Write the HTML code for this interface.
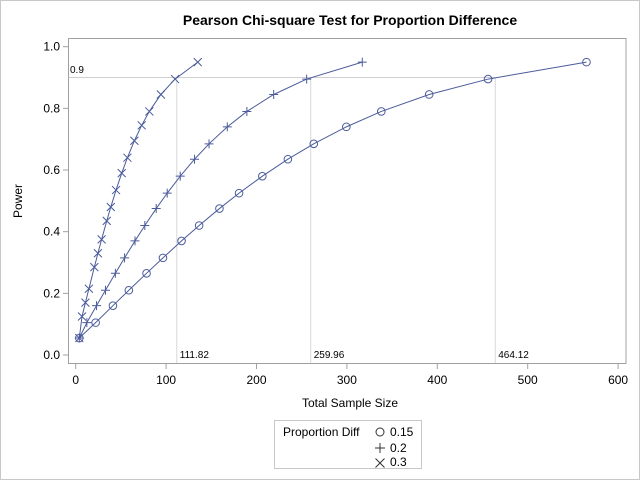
<!DOCTYPE html>
<html><head><style>
body{margin:0;background:#fff}
svg{display:block;font-family:"Liberation Sans",Arial,sans-serif}
</style></head><body>
<svg id="s" width="640" height="480" xmlns="http://www.w3.org/2000/svg">
<rect x="0.5" y="0.5" width="639" height="479" fill="#fff" stroke="#c8c8c8"/>
<text x="350" y="25" text-anchor="middle" font-size="14" font-weight="bold">Pearson Chi-square Test for Proportion Difference</text>
<rect x="68.5" y="38.5" width="557.5" height="325" fill="none" stroke="#a0a0a0"/>
<g id="g"></g>
<text x="350" y="407" text-anchor="middle" font-size="12">Total Sample Size</text>
<text transform="translate(22,201) rotate(-90)" text-anchor="middle" font-size="12">Power</text>
<rect x="274.5" y="420.5" width="147" height="48" fill="none" stroke="#c8c8c8"/>
<text x="283" y="436" font-size="12">Proportion Diff</text>
<circle cx="380" cy="432" r="4" fill="none" stroke="#333" stroke-width="1"/>
<text x="390" y="436" font-size="12">0.15</text>
<path d="M375 448h10M380 443v10" stroke="#333"/>
<text x="390" y="452" font-size="12">0.2</text>
<path d="M375.5 458.5l9 9M384.5 458.5l-9 9" stroke="#333"/>
<text x="390" y="466" font-size="12">0.3</text>
</svg>
<script>
var X=function(n){return 75.7+n*0.904},Y=function(p){return 355-308.3*p};
var h='';
for(var i=0;i<=6;i++){var x=X(i*100);h+='<line x1="'+x+'" y1="364" x2="'+x+'" y2="369" stroke="#a0a0a0"/><text x="'+x+'" y="384" text-anchor="middle" font-size="12">'+(i*100)+'</text>';}
for(var i=0;i<=5;i++){var p=i*0.2,y=Y(p);h+='<line x1="63" y1="'+y+'" x2="68" y2="'+y+'" stroke="#a0a0a0"/><text x="60" y="'+(y+4)+'" text-anchor="end" font-size="12">'+p.toFixed(1)+'</text>';}
var y9=Y(0.9);
h+='<line x1="69" y1="'+y9+'" x2="'+X(464.12)+'" y2="'+y9+'" stroke="#d0d0d0"/>';
[111.82,259.96,464.12].forEach(function(n){h+='<line x1="'+X(n)+'" y1="'+y9+'" x2="'+X(n)+'" y2="363" stroke="#d8d8d8"/><text x="'+(X(n)+3)+'" y="358" font-size="10">'+n.toFixed(2)+'</text>';});
h+='<text x="70" y="73" font-size="10">0.9</text>';
function inv(p){
var a=[-39.6968302866538,220.946098424521,-275.928510446969,138.357751867269,-30.6647980661472,2.50662827745924],b=[-54.4760987982241,161.585836858041,-155.698979859887,66.8013118877197,-13.2806815528857],c=[-0.00778489400243029,-0.322396458041136,-2.40075827716184,-2.54973253934373,4.37466414146497,2.93816398269878],d=[0.00778469570904146,0.32246712907004,2.445134137143,3.75440866190742];
var q,r;if(p<0.02425){q=Math.sqrt(-2*Math.log(p));return (((((c[0]*q+c[1])*q+c[2])*q+c[3])*q+c[4])*q+c[5])/((((d[0]*q+d[1])*q+d[2])*q+d[3])*q+1);}
if(p>1-0.02425){q=Math.sqrt(-2*Math.log(1-p));return -(((((c[0]*q+c[1])*q+c[2])*q+c[3])*q+c[4])*q+c[5])/((((d[0]*q+d[1])*q+d[2])*q+d[3])*q+1);}
q=p-0.5;r=q*q;return (((((a[0]*r+a[1])*r+a[2])*r+a[3])*r+a[4])*r+a[5])*q/(((((b[0]*r+b[1])*r+b[2])*r+b[3])*r+b[4])*r+1);}
var P=[.055,.105,.16,.21,.265,.315,.37,.42,.475,.525,.58,.635,.685,.74,.79,.845,.895,.95];
var P3=[.055,.125,.17,.215,.285,.33,.375,.435,.48,.535,.59,.64,.695,.745,.79,.845,.895,.95];
var col='#4b5b9b';
[[464.12,P,'o',565],[259.96,P,'+',317],[111.82,P3,'x',135]].forEach(function(s){
var k=3.2415/Math.sqrt(s[0]);var pts=s[1].map(function(p){var n=Math.pow((inv(p)+1.96)/k,2);if(n<3)n=3;return [X(n),Y(p)];});
pts[0]=[X(4),Y(.055)];
pts[pts.length-1]=[X(s[3]),Y(.95)];
h+='<polyline fill="none" stroke="'+col+'" stroke-width="1" points="'+pts.map(function(q){return q.join(',')}).join(' ')+'"/>';
pts.forEach(function(q){var x=q[0],y=q[1];
if(s[2]=='o')h+='<circle cx="'+x+'" cy="'+y+'" r="3.8" fill="none" stroke="'+col+'"/>';
else if(s[2]=='+')h+='<path d="M'+(x-4.5)+' '+y+'h9M'+x+' '+(y-4.5)+'v9" stroke="'+col+'"/>';
else h+='<path d="M'+(x-4)+' '+(y-4)+'l8 8M'+(x+4)+' '+(y-4)+'l-8 8" stroke="'+col+'"/>';});
});
document.getElementById('g').innerHTML=h;
</script>
</body></html>
